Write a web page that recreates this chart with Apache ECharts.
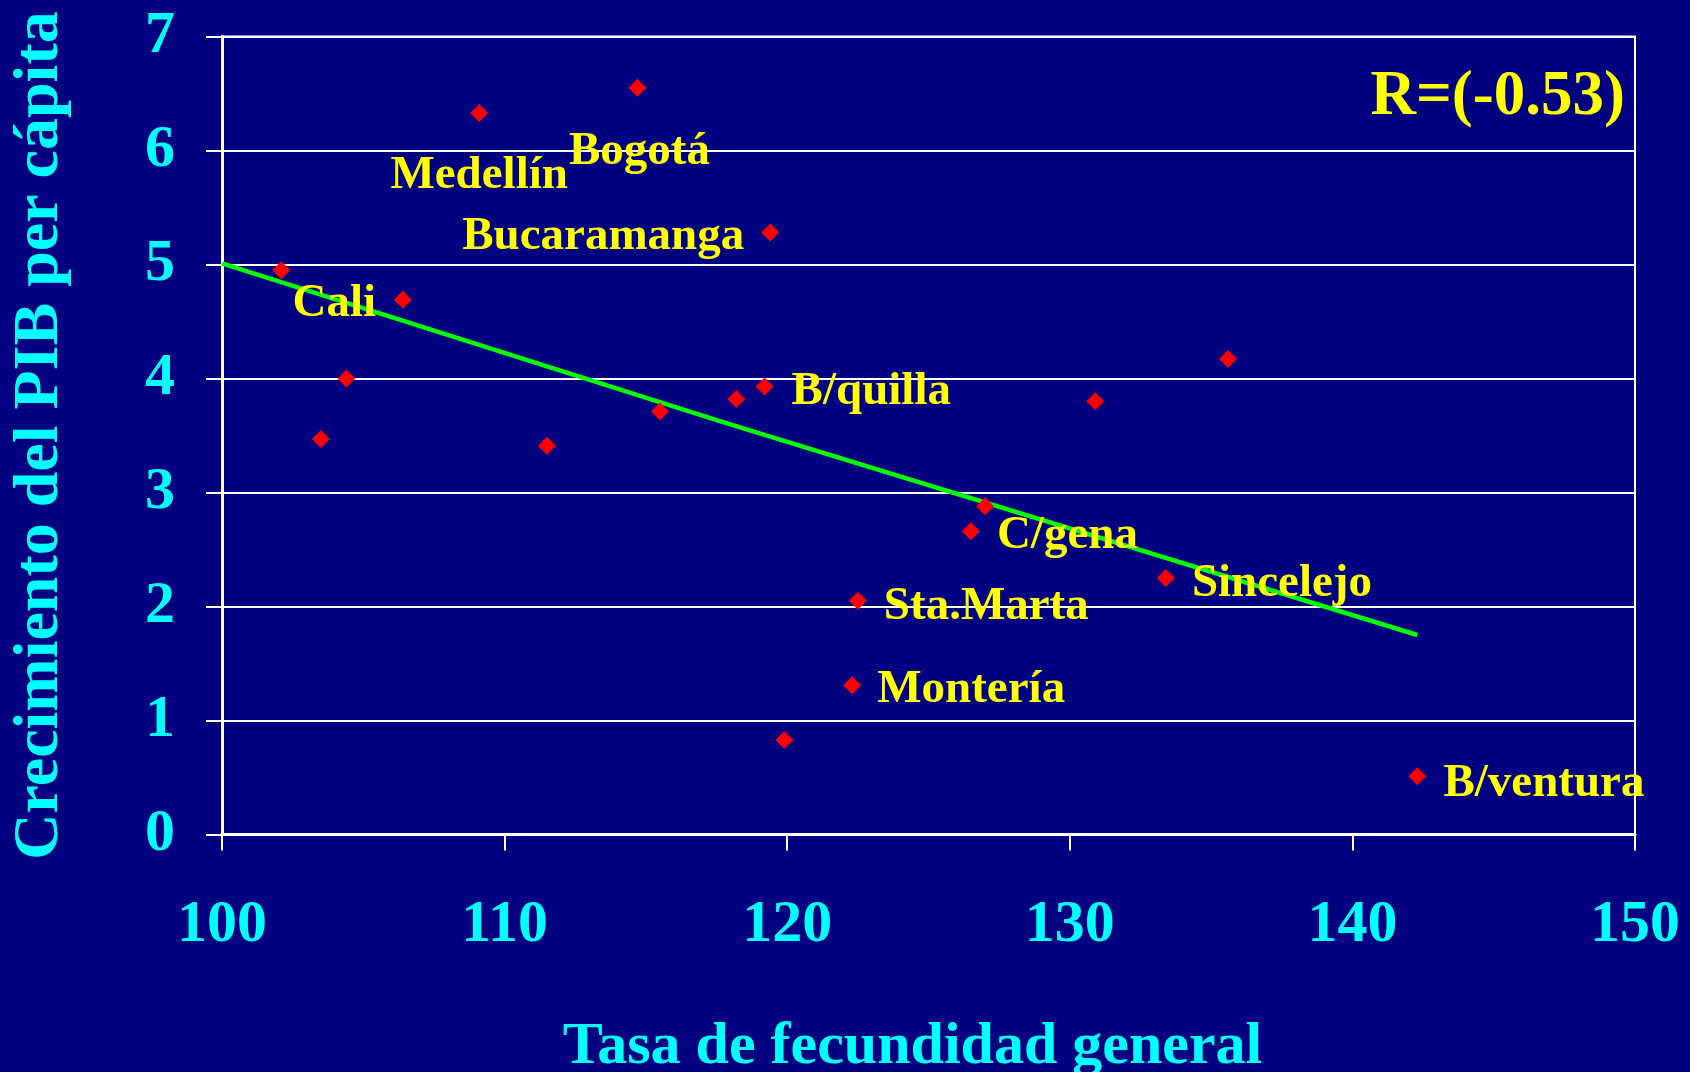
<!DOCTYPE html>
<html>
<head>
<meta charset="utf-8">
<script src="https://cdn.jsdelivr.net/npm/echarts@6/dist/echarts.min.js"></script>
<style>html,body{margin:0;padding:0;background:#000080;}#c{width:1690px;height:1072px;}</style>
</head>
<body>
<div id="c"></div>
<script>
// Data
const fecundidad = [102.1, 106.4, 109.1, 114.7, 119.4, 104.4, 103.5, 111.5, 115.5, 118.2, 119.2, 130.9, 135.6, 127.0, 126.5, 133.4, 122.5, 122.3, 119.9, 142.3];
const crecimiento = [4.95, 4.69, 6.33, 6.55, 5.28, 4.00, 3.47, 3.41, 3.71, 3.82, 3.93, 3.80, 4.17, 2.88, 2.66, 2.25, 2.05, 1.31, 0.83, 0.51];
const ciudades = ['Cali', '', 'Medellín', 'Bogotá', 'Bucaramanga', '', '', '', '', '', 'B/quilla', '', '', '', 'C/gena', 'Sincelejo', 'Sta.Marta', 'Montería', '', 'B/ventura'];
const tendenciaX = [100, 117.7, 142.3];
const tendenciaY = [5.01, 3.62, 1.75];
const xTicks = [100, 110, 120, 130, 140, 150];
const yTicks = [0, 1, 2, 3, 4, 5, 6, 7];
const rTexto = 'R=(-0.53)';

// Label placement styles (by city)
const labelStyle = {
  'Cali':        {position: 'inside', offset: [53, 34]},
  'Medellín':    {position: 'inside', offset: [0, 63]},
  'Bogotá':      {position: 'inside', offset: [2, 64]},
  'Bucaramanga': {position: 'left', distance: 17, offset: [0, 4]},
  'B/quilla':    {position: 'right', distance: 18, offset: [0, 5]},
  'C/gena':      {position: 'right', distance: 17, offset: [0, 5]},
  'Sincelejo':   {position: 'right', distance: 17, offset: [0, 6]},
  'Sta.Marta':   {position: 'right', distance: 17, offset: [0, 6]},
  'Montería':    {position: 'right', distance: 16, offset: [0, 5]},
  'B/ventura':   {position: 'right', distance: 17, offset: [0, 7]}
};

const FONT = '"Liberation Serif", "Times New Roman", serif';

const scatterData = fecundidad.map((x, i) => {
  const name = ciudades[i];
  const item = {value: [x, crecimiento[i]], name: name};
  if (name) {
    const ls = labelStyle[name];
    item.label = Object.assign({
      show: true, formatter: name, color: '#FFFF00', fontFamily: FONT,
      fontWeight: 'bold', fontSize: 47, opacity: 1
    }, ls);
  }
  return item;
});

const chart = echarts.init(document.getElementById('c'), null, {renderer: 'canvas'});
chart.setOption({
  backgroundColor: '#000080',
  animation: false,
  grid: {left: 222, right: 55, top: 36.5, bottom: 237.5, outerBoundsMode: 'none', containLabel: false, show: true, borderColor: '#FFFFFF', borderWidth: 2, backgroundColor: 'transparent'},
  xAxis: {
    type: 'value', min: xTicks[0], max: xTicks[xTicks.length - 1], interval: 10,
    name: 'Tasa de fecundidad general', nameLocation: 'middle', nameGap: 183,
    nameTextStyle: {color: '#00FFFF', fontFamily: FONT, fontWeight: 'bold', fontSize: 60, padding: [0, 32, 0, 0]},
    axisLine: {show: true, onZero: false, lineStyle: {color: '#FFFFFF', width: 3}},
    axisTick: {show: true, inside: false, length: 16, lineStyle: {color: '#FFFFFF', width: 2}},
    axisLabel: {color: '#00FFFF', fontFamily: FONT, fontWeight: 'bold', fontSize: 60, margin: 61},
    splitLine: {show: false}
  },
  yAxis: {
    type: 'value', min: yTicks[0], max: yTicks[yTicks.length - 1], interval: 1,
    name: 'Crecimiento del PIB per cápita', nameLocation: 'middle', nameGap: 150, nameRotate: 90,
    nameTextStyle: {color: '#00FFFF', fontFamily: FONT, fontWeight: 'bold', fontSize: 64},
    axisLine: {show: true, onZero: false, lineStyle: {color: '#FFFFFF', width: 3}},
    axisTick: {show: true, inside: false, length: 16, lineStyle: {color: '#FFFFFF', width: 2}},
    axisLabel: {color: '#00FFFF', fontFamily: FONT, fontWeight: 'bold', fontSize: 60, margin: 47},
    splitLine: {show: true, lineStyle: {color: '#FFFFFF', width: 2}}
  },
  series: [
    {
      type: 'line',
      data: tendenciaX.map((x, i) => [x, tendenciaY[i]]),
      showSymbol: false, symbol: 'none',
      lineStyle: {color: '#00FF00', width: 4.5, opacity: 1},
      z: 3
    },
    {
      type: 'scatter',
      data: scatterData,
      symbol: 'diamond', symbolSize: [18, 18],
      itemStyle: {color: '#FF0000', opacity: 1},
      z: 4
    }
  ],
  graphic: [
    {
      type: 'text', right: 65, top: 66, z: 10,
      style: {text: rTexto, fill: '#FFFF00', font: 'bold 63px ' + FONT}
    }
  ]
});
</script>
</body>
</html>
